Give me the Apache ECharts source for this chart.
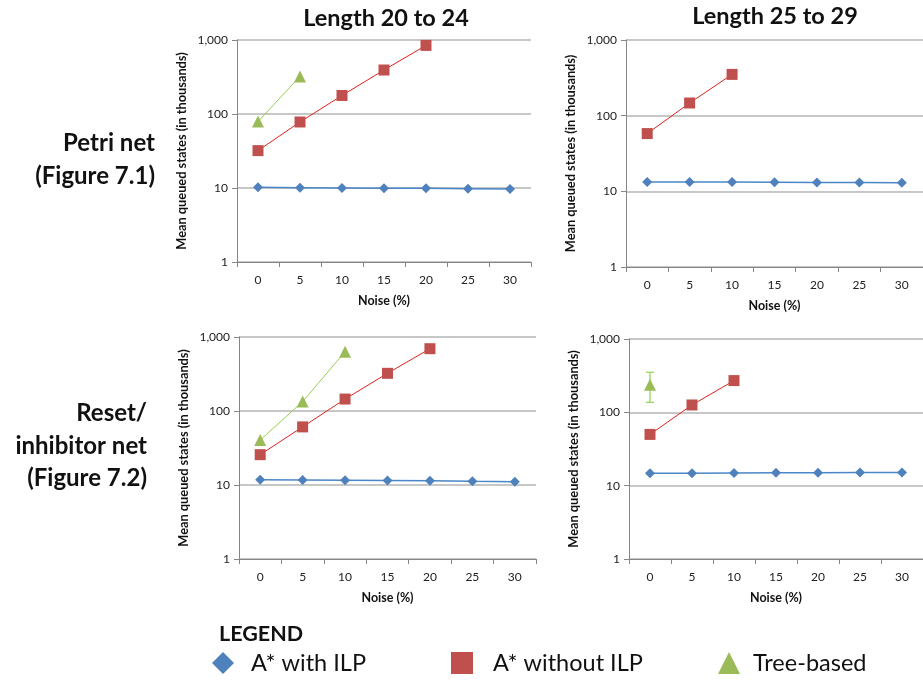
<!DOCTYPE html>
<html>
<head>
<meta charset="utf-8">
<script src="https://cdn.jsdelivr.net/npm/echarts@6/dist/echarts.min.js"></script>
<style>
  html, body { margin: 0; padding: 0; background: #fff; }
  #main { width: 923px; height: 681px; }
</style>
</head>
<body>
<div id="main"></div>
<script>
// categories (noise %)
const noise = ['0', '5', '10', '15', '20', '25', '30'];

// Petri net, length 20 to 24
const petriShortIlp = [10.2, 10.1, 10.0, 9.9, 9.9, 9.8, 9.7];
const petriShortNoIlp = [32, 78, 178, 393, 845];
const petriShortTree = [79, 322];

// Petri net, length 25 to 29
const petriLongIlp = [13.3, 13.3, 13.3, 13.2, 13.1, 13.1, 13.0];
const petriLongNoIlp = [58, 147, 351];

// Reset/inhibitor net, length 20 to 24
const resetShortIlp = [11.8, 11.7, 11.6, 11.5, 11.4, 11.2, 11.1];
const resetShortNoIlp = [25.7, 61, 145, 323, 695];
const resetShortTree = [40.5, 134, 632];

// Reset/inhibitor net, length 25 to 29
const resetLongIlp = [14.8, 14.8, 14.9, 15.0, 15.0, 15.1, 15.1];
const resetLongNoIlp = [50, 126, 271];
const resetLongTree = [237];
const resetLongTreeLow = [137];
const resetLongTreeHigh = [352];

const FONT = 'Lato';
const grids = [
  { left: 237, top: 40, width: 294, height: 222 },
  { left: 626, top: 40, width: 302, height: 227 },
  { left: 239, top: 337, width: 297, height: 222 },
  { left: 629, top: 339, width: 294, height: 220 }
];

function xAxisFor(i) {
  return {
    type: 'category', gridIndex: i, data: noise, boundaryGap: true,
    name: 'Noise (%)', nameLocation: 'middle', nameGap: 32,
    nameTextStyle: { fontFamily: FONT, fontWeight: 'bold', fontSize: 12.5, color: '#111' },
    axisLine: { lineStyle: { color: '#868686', width: 1 } },
    axisTick: { show: true, length: 5, lineStyle: { color: '#868686' } },
    axisLabel: { fontFamily: FONT, fontSize: 12, color: '#222', margin: 12 },
    splitLine: { show: false }
  };
}
function yAxisFor(i) {
  return {
    type: 'log', gridIndex: i, logBase: 10, min: 1, max: 1000,
    name: 'Mean queued states (in thousands)', nameLocation: 'middle', nameGap: 49,
    nameRotate: 90,
    nameTextStyle: { fontFamily: FONT, fontWeight: 'bold', fontSize: 12.8, color: '#111' },
    axisLine: { show: true, lineStyle: { color: '#868686', width: 1 } },
    axisTick: { show: true, length: 5, lineStyle: { color: '#868686' } },
    axisLabel: {
      fontFamily: FONT, fontSize: 12, color: '#222', margin: 9,
      formatter: v => Math.round(v).toLocaleString('en-US')
    },
    splitLine: { show: true, lineStyle: { color: '#B4B4B4', width: 1.5 } },
    minorTick: { show: false }
  };
}

const styles = {
  ilp: { name: 'A* with ILP', symbol: 'diamond', symbolSize: 10, color: '#4F81BD', line: '#4A86C8', width: 1.5 },
  noIlp: { name: 'A* without ILP', symbol: 'rect', symbolSize: 11, color: '#C0504D', line: '#E0201B', width: 1 },
  tree: { name: 'Tree-based', symbol: 'triangle', symbolSize: 12, color: '#9BBB59', line: '#92D050', width: 1 }
};
function lineSeries(kind, gi, values) {
  const s = styles[kind];
  return {
    type: 'line', name: s.name, xAxisIndex: gi, yAxisIndex: gi,
    data: values, symbol: s.symbol, symbolSize: s.symbolSize, showSymbol: true,
    itemStyle: { color: s.color }, lineStyle: { color: s.line, width: s.width },
    animation: false, z: kind === 'ilp' ? 2 : 3
  };
}

const errData = resetLongTree.map((v, i) => [i, resetLongTreeLow[i], resetLongTreeHigh[i]]);

const series = [
  lineSeries('ilp', 0, petriShortIlp),
  lineSeries('noIlp', 0, petriShortNoIlp),
  lineSeries('tree', 0, petriShortTree),
  lineSeries('ilp', 1, petriLongIlp),
  lineSeries('noIlp', 1, petriLongNoIlp),
  lineSeries('ilp', 2, resetShortIlp),
  lineSeries('noIlp', 2, resetShortNoIlp),
  lineSeries('tree', 2, resetShortTree),
  lineSeries('ilp', 3, resetLongIlp),
  lineSeries('noIlp', 3, resetLongNoIlp),
  lineSeries('tree', 3, resetLongTree),
  {
    type: 'custom', name: 'Tree-based error', xAxisIndex: 3, yAxisIndex: 3,
    data: errData, animation: false, z: 1,
    renderItem: function (params, api) {
      const lo = api.coord([api.value(0), api.value(1)]);
      const hi = api.coord([api.value(0), api.value(2)]);
      const st = { stroke: '#92D050', lineWidth: 1.2 };
      return {
        type: 'group',
        children: [
          { type: 'line', shape: { x1: hi[0], y1: hi[1], x2: lo[0], y2: lo[1] }, style: st },
          { type: 'line', shape: { x1: hi[0] - 4, y1: hi[1], x2: hi[0] + 4, y2: hi[1] }, style: st },
          { type: 'line', shape: { x1: lo[0] - 4, y1: lo[1], x2: lo[0] + 4, y2: lo[1] }, style: st }
        ]
      };
    }
  }
];

function legendFor(kind, left, gap) {
  const s = styles[kind];
  return {
    left: left, top: 651, padding: 0, itemWidth: 22, itemHeight: 22, selectedMode: false,
    data: [{ name: s.name, icon: s.symbol, itemStyle: { color: s.color } }],
    textStyle: { fontFamily: FONT, fontSize: 23.5, color: '#111', padding: [0, 0, 0, gap] }
  };
}

// row labels, one text per line, right-aligned
function rowLabel(text, x, y) {
  return {
    type: 'text', x: x, y: y,
    style: {
      text: text, align: 'right', verticalAlign: 'middle',
      fontFamily: FONT, fontWeight: 'bold', fontSize: 24, fill: '#111'
    }
  };
}

const titleStyle = { fontFamily: FONT, fontWeight: 'bold', fontSize: 23.5, color: '#111' };

const chart = echarts.init(document.getElementById('main'));
chart.setOption({
  animation: false,
  title: [
    { text: 'Length 20 to 24', left: 381, top: 1, textAlign: 'center', textStyle: titleStyle },
    { text: 'Length 25 to 29', left: 770, top: -1, textAlign: 'center', textStyle: titleStyle },
    { text: 'LEGEND', left: 214, top: 618, textStyle: { fontFamily: FONT, fontWeight: 'bold', fontSize: 21.5, color: '#111' } }
  ],
  graphic: [
    rowLabel('Petri net', 155, 143),
    rowLabel('(Figure 7.1)', 155, 176),
    rowLabel('Reset/', 147, 413),
    rowLabel('inhibitor net', 147, 446),
    rowLabel('(Figure 7.2)', 147, 478)
  ],
  legend: [legendFor('ilp', 212, 12), legendFor('noIlp', 451, 15), legendFor('tree', 718, 8)],
  grid: grids,
  xAxis: [0, 1, 2, 3].map(xAxisFor),
  yAxis: [0, 1, 2, 3].map(yAxisFor),
  series: series
});
</script>
</body>
</html>
